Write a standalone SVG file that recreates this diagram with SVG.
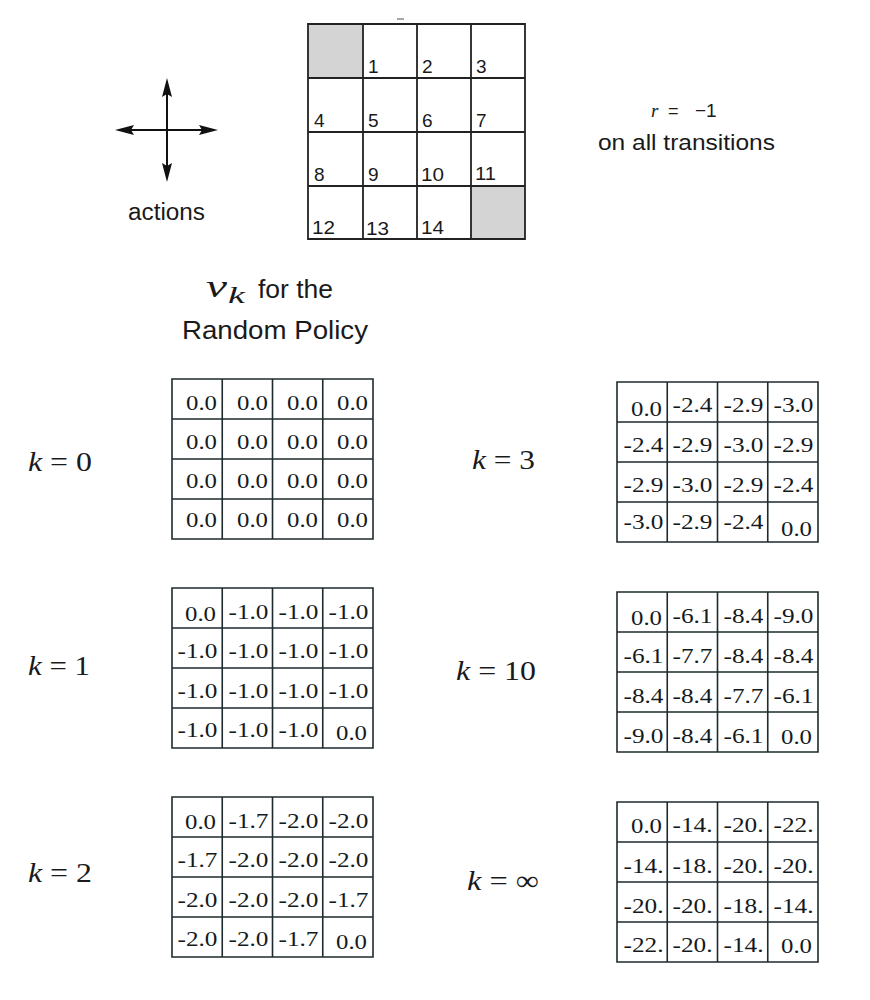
<svg xmlns="http://www.w3.org/2000/svg" width="870" height="1000" viewBox="0 0 870 1000">
<style>
.bg{fill:#ffffff}
.gl{fill:none;stroke:#1e2a2e;stroke-width:1.6}
.gw{fill:none;stroke:#222;stroke-width:1.8}
.term{fill:#d4d4d4}
.num{font-family:"Liberation Sans",Arial,sans-serif;font-size:19px;fill:#1a1a1a}
.sans{font-family:"Liberation Sans",Arial,sans-serif;fill:#1a1a1a}
.ser{font-family:"Liberation Serif","Times New Roman",serif;fill:#1a1a1a}
.v{font-family:"Liberation Serif","Times New Roman",serif;font-size:22px;fill:#141a20}
.arr{fill:#111}
</style>
<defs>
<path id="grid" class="gl" d="M0,0H201V160H0Z M50.25,0V160 M100.5,0V160 M150.75,0V160 M0,40H201 M0,80H201 M0,120H201"/>
</defs>
<rect class="bg" x="0" y="0" width="870" height="1000"/>

<g id="actions">
  <line x1="130" y1="130" x2="204" y2="130" stroke="#111" stroke-width="2"/>
  <line x1="167" y1="92" x2="167" y2="168" stroke="#111" stroke-width="2"/>
  <polygon class="arr" points="115,130 134,125 131,130 134,135"/>
  <polygon class="arr" points="218,130 199,125 202,130 199,135"/>
  <polygon class="arr" points="167,78 162,97 167,94 172,97"/>
  <polygon class="arr" points="167,182 162,163 167,166 172,163"/>
  <text class="sans" x="128" y="220" font-size="23" textLength="77" lengthAdjust="spacingAndGlyphs">actions</text>
</g>

<g id="gridworld">
  <rect class="term" x="308" y="24" width="55" height="54"/>
  <rect class="term" x="471" y="186" width="54" height="53"/>
  <path class="gw" d="M308,24H525V239H308Z M363,24V239 M417,24V239 M471,24V239 M308,78H525 M308,132H525 M308,186H525"/>
  <line x1="397" y1="19" x2="404" y2="19" stroke="#888" stroke-width="1.5"/>
  <text class="num" x="368" y="73">1</text>
  <text class="num" x="422" y="73">2</text>
  <text class="num" x="476" y="73">3</text>
  <text class="num" x="314" y="127">4</text>
  <text class="num" x="368" y="127">5</text>
  <text class="num" x="422" y="127">6</text>
  <text class="num" x="476" y="127">7</text>
  <text class="num" x="314" y="181">8</text>
  <text class="num" x="368" y="181">9</text>
  <text class="num" x="421" y="181" textLength="23" lengthAdjust="spacingAndGlyphs">10</text>
  <text class="num" x="475" y="180" textLength="21" lengthAdjust="spacingAndGlyphs">11</text>
  <text class="num" x="312" y="234" textLength="23" lengthAdjust="spacingAndGlyphs">12</text>
  <text class="num" x="366" y="235" textLength="23" lengthAdjust="spacingAndGlyphs">13</text>
  <text class="num" x="421" y="234" textLength="23" lengthAdjust="spacingAndGlyphs">14</text>
</g>

<g id="reward">
  <text class="ser" x="651" y="117" font-size="19" font-style="italic">r</text>
  <text class="sans" x="668" y="117" font-size="18">=</text>
  <text class="sans" x="695" y="117" font-size="19">−1</text>
  <text class="sans" x="598" y="150" font-size="22" textLength="177" lengthAdjust="spacingAndGlyphs">on all transitions</text>
</g>

<g id="title">
  <text class="ser" x="206" y="297" font-size="32" font-style="italic" textLength="21" lengthAdjust="spacingAndGlyphs">v</text>
  <text class="ser" x="228" y="303" font-size="24" font-style="italic" textLength="17" lengthAdjust="spacingAndGlyphs">k</text>
  <text class="sans" x="258" y="298" font-size="25" textLength="75" lengthAdjust="spacingAndGlyphs">for the</text>
  <text class="sans" x="182" y="339" font-size="25" textLength="186" lengthAdjust="spacingAndGlyphs">Random Policy</text>
</g>

<g id="k0">
  <text class="ser" x="28" y="471" font-size="28" textLength="64" lengthAdjust="spacingAndGlyphs"><tspan font-style="italic">k</tspan> = 0</text>
  <use href="#grid" x="172" y="379"/>
  <g class="v" text-anchor="start">
    <text x="186" y="410" textLength="31" lengthAdjust="spacingAndGlyphs">0.0</text><text x="237" y="410" textLength="31" lengthAdjust="spacingAndGlyphs">0.0</text><text x="287" y="410" textLength="31" lengthAdjust="spacingAndGlyphs">0.0</text><text x="337" y="410" textLength="31" lengthAdjust="spacingAndGlyphs">0.0</text>
    <text x="186" y="449" textLength="31" lengthAdjust="spacingAndGlyphs">0.0</text><text x="237" y="449" textLength="31" lengthAdjust="spacingAndGlyphs">0.0</text><text x="287" y="449" textLength="31" lengthAdjust="spacingAndGlyphs">0.0</text><text x="337" y="449" textLength="31" lengthAdjust="spacingAndGlyphs">0.0</text>
    <text x="186" y="488" textLength="31" lengthAdjust="spacingAndGlyphs">0.0</text><text x="237" y="488" textLength="31" lengthAdjust="spacingAndGlyphs">0.0</text><text x="287" y="488" textLength="31" lengthAdjust="spacingAndGlyphs">0.0</text><text x="337" y="488" textLength="31" lengthAdjust="spacingAndGlyphs">0.0</text>
    <text x="186" y="527" textLength="31" lengthAdjust="spacingAndGlyphs">0.0</text><text x="237" y="527" textLength="31" lengthAdjust="spacingAndGlyphs">0.0</text><text x="287" y="527" textLength="31" lengthAdjust="spacingAndGlyphs">0.0</text><text x="337" y="527" textLength="31" lengthAdjust="spacingAndGlyphs">0.0</text>
  </g>
</g>

<g id="k1">
  <text class="ser" x="28" y="675" font-size="28" textLength="62" lengthAdjust="spacingAndGlyphs"><tspan font-style="italic">k</tspan> = 1</text>
  <use href="#grid" x="172" y="588"/>
  <g class="v">
    <text x="185" y="621" textLength="31" lengthAdjust="spacingAndGlyphs">0.0</text><text x="228.5" y="619" textLength="40" lengthAdjust="spacingAndGlyphs">-1.0</text><text x="278.5" y="619" textLength="40" lengthAdjust="spacingAndGlyphs">-1.0</text><text x="328.5" y="619" textLength="40" lengthAdjust="spacingAndGlyphs">-1.0</text>
    <text x="177.5" y="658" textLength="40" lengthAdjust="spacingAndGlyphs">-1.0</text><text x="228.5" y="658" textLength="40" lengthAdjust="spacingAndGlyphs">-1.0</text><text x="278.5" y="658" textLength="40" lengthAdjust="spacingAndGlyphs">-1.0</text><text x="328.5" y="658" textLength="40" lengthAdjust="spacingAndGlyphs">-1.0</text>
    <text x="177.5" y="698" textLength="40" lengthAdjust="spacingAndGlyphs">-1.0</text><text x="228.5" y="698" textLength="40" lengthAdjust="spacingAndGlyphs">-1.0</text><text x="278.5" y="698" textLength="40" lengthAdjust="spacingAndGlyphs">-1.0</text><text x="328.5" y="698" textLength="40" lengthAdjust="spacingAndGlyphs">-1.0</text>
    <text x="177.5" y="737" textLength="40" lengthAdjust="spacingAndGlyphs">-1.0</text><text x="228.5" y="737" textLength="40" lengthAdjust="spacingAndGlyphs">-1.0</text><text x="278.5" y="737" textLength="40" lengthAdjust="spacingAndGlyphs">-1.0</text><text x="336" y="740" textLength="31" lengthAdjust="spacingAndGlyphs">0.0</text>
  </g>
</g>

<g id="k2">
  <text class="ser" x="28" y="882" font-size="28" textLength="64" lengthAdjust="spacingAndGlyphs"><tspan font-style="italic">k</tspan> = 2</text>
  <use href="#grid" x="172" y="797"/>
  <g class="v">
    <text x="185" y="829" textLength="31" lengthAdjust="spacingAndGlyphs">0.0</text><text x="228.5" y="828" textLength="40" lengthAdjust="spacingAndGlyphs">-1.7</text><text x="278.5" y="828" textLength="40" lengthAdjust="spacingAndGlyphs">-2.0</text><text x="328.5" y="828" textLength="40" lengthAdjust="spacingAndGlyphs">-2.0</text>
    <text x="177.5" y="867" textLength="40" lengthAdjust="spacingAndGlyphs">-1.7</text><text x="228.5" y="867" textLength="40" lengthAdjust="spacingAndGlyphs">-2.0</text><text x="278.5" y="867" textLength="40" lengthAdjust="spacingAndGlyphs">-2.0</text><text x="328.5" y="867" textLength="40" lengthAdjust="spacingAndGlyphs">-2.0</text>
    <text x="177.5" y="907" textLength="40" lengthAdjust="spacingAndGlyphs">-2.0</text><text x="228.5" y="907" textLength="40" lengthAdjust="spacingAndGlyphs">-2.0</text><text x="278.5" y="907" textLength="40" lengthAdjust="spacingAndGlyphs">-2.0</text><text x="328.5" y="907" textLength="40" lengthAdjust="spacingAndGlyphs">-1.7</text>
    <text x="177.5" y="946" textLength="40" lengthAdjust="spacingAndGlyphs">-2.0</text><text x="228.5" y="946" textLength="40" lengthAdjust="spacingAndGlyphs">-2.0</text><text x="278.5" y="946" textLength="40" lengthAdjust="spacingAndGlyphs">-1.7</text><text x="336" y="949" textLength="31" lengthAdjust="spacingAndGlyphs">0.0</text>
  </g>
</g>

<g id="k3">
  <text class="ser" x="472" y="469" font-size="28" textLength="63" lengthAdjust="spacingAndGlyphs"><tspan font-style="italic">k</tspan> = 3</text>
  <use href="#grid" x="617" y="382"/>
  <g class="v">
    <text x="631" y="416" textLength="31" lengthAdjust="spacingAndGlyphs">0.0</text><text x="672.5" y="412" textLength="40" lengthAdjust="spacingAndGlyphs">-2.4</text><text x="723.5" y="412" textLength="40" lengthAdjust="spacingAndGlyphs">-2.9</text><text x="773.5" y="412" textLength="40" lengthAdjust="spacingAndGlyphs">-3.0</text>
    <text x="623.5" y="452" textLength="40" lengthAdjust="spacingAndGlyphs">-2.4</text><text x="672.5" y="452" textLength="40" lengthAdjust="spacingAndGlyphs">-2.9</text><text x="723.5" y="452" textLength="40" lengthAdjust="spacingAndGlyphs">-3.0</text><text x="773.5" y="452" textLength="40" lengthAdjust="spacingAndGlyphs">-2.9</text>
    <text x="623.5" y="492" textLength="40" lengthAdjust="spacingAndGlyphs">-2.9</text><text x="672.5" y="492" textLength="40" lengthAdjust="spacingAndGlyphs">-3.0</text><text x="723.5" y="492" textLength="40" lengthAdjust="spacingAndGlyphs">-2.9</text><text x="773.5" y="492" textLength="40" lengthAdjust="spacingAndGlyphs">-2.4</text>
    <text x="623.5" y="529" textLength="40" lengthAdjust="spacingAndGlyphs">-3.0</text><text x="672.5" y="529" textLength="40" lengthAdjust="spacingAndGlyphs">-2.9</text><text x="723.5" y="529" textLength="40" lengthAdjust="spacingAndGlyphs">-2.4</text><text x="781" y="536" textLength="31" lengthAdjust="spacingAndGlyphs">0.0</text>
  </g>
</g>

<g id="k10">
  <text class="ser" x="456" y="680" font-size="28" textLength="80" lengthAdjust="spacingAndGlyphs"><tspan font-style="italic">k</tspan> = 10</text>
  <use href="#grid" x="617" y="592"/>
  <g class="v">
    <text x="631" y="625" textLength="31" lengthAdjust="spacingAndGlyphs">0.0</text><text x="672.5" y="623" textLength="40" lengthAdjust="spacingAndGlyphs">-6.1</text><text x="723.5" y="623" textLength="40" lengthAdjust="spacingAndGlyphs">-8.4</text><text x="773.5" y="623" textLength="40" lengthAdjust="spacingAndGlyphs">-9.0</text>
    <text x="623.5" y="663" textLength="40" lengthAdjust="spacingAndGlyphs">-6.1</text><text x="672.5" y="663" textLength="40" lengthAdjust="spacingAndGlyphs">-7.7</text><text x="723.5" y="663" textLength="40" lengthAdjust="spacingAndGlyphs">-8.4</text><text x="773.5" y="663" textLength="40" lengthAdjust="spacingAndGlyphs">-8.4</text>
    <text x="623.5" y="703" textLength="40" lengthAdjust="spacingAndGlyphs">-8.4</text><text x="672.5" y="703" textLength="40" lengthAdjust="spacingAndGlyphs">-8.4</text><text x="723.5" y="703" textLength="40" lengthAdjust="spacingAndGlyphs">-7.7</text><text x="773.5" y="703" textLength="40" lengthAdjust="spacingAndGlyphs">-6.1</text>
    <text x="623.5" y="743" textLength="40" lengthAdjust="spacingAndGlyphs">-9.0</text><text x="672.5" y="743" textLength="40" lengthAdjust="spacingAndGlyphs">-8.4</text><text x="723.5" y="743" textLength="40" lengthAdjust="spacingAndGlyphs">-6.1</text><text x="781" y="744" textLength="31" lengthAdjust="spacingAndGlyphs">0.0</text>
  </g>
</g>

<g id="kinf">
  <text class="ser" x="467" y="890" font-size="28" textLength="72" lengthAdjust="spacingAndGlyphs"><tspan font-style="italic">k</tspan> = ∞</text>
  <use href="#grid" x="617" y="802"/>
  <g class="v">
    <text x="631" y="833" textLength="31" lengthAdjust="spacingAndGlyphs">0.0</text><text x="672.5" y="832" textLength="40" lengthAdjust="spacingAndGlyphs">-14.</text><text x="723.5" y="832" textLength="40" lengthAdjust="spacingAndGlyphs">-20.</text><text x="773.5" y="832" textLength="40" lengthAdjust="spacingAndGlyphs">-22.</text>
    <text x="623.5" y="873" textLength="40" lengthAdjust="spacingAndGlyphs">-14.</text><text x="672.5" y="873" textLength="40" lengthAdjust="spacingAndGlyphs">-18.</text><text x="723.5" y="873" textLength="40" lengthAdjust="spacingAndGlyphs">-20.</text><text x="773.5" y="873" textLength="40" lengthAdjust="spacingAndGlyphs">-20.</text>
    <text x="623.5" y="913" textLength="40" lengthAdjust="spacingAndGlyphs">-20.</text><text x="672.5" y="913" textLength="40" lengthAdjust="spacingAndGlyphs">-20.</text><text x="723.5" y="913" textLength="40" lengthAdjust="spacingAndGlyphs">-18.</text><text x="773.5" y="913" textLength="40" lengthAdjust="spacingAndGlyphs">-14.</text>
    <text x="623.5" y="952" textLength="40" lengthAdjust="spacingAndGlyphs">-22.</text><text x="672.5" y="952" textLength="40" lengthAdjust="spacingAndGlyphs">-20.</text><text x="723.5" y="952" textLength="40" lengthAdjust="spacingAndGlyphs">-14.</text><text x="781" y="953" textLength="31" lengthAdjust="spacingAndGlyphs">0.0</text>
  </g>
</g>
</svg>
